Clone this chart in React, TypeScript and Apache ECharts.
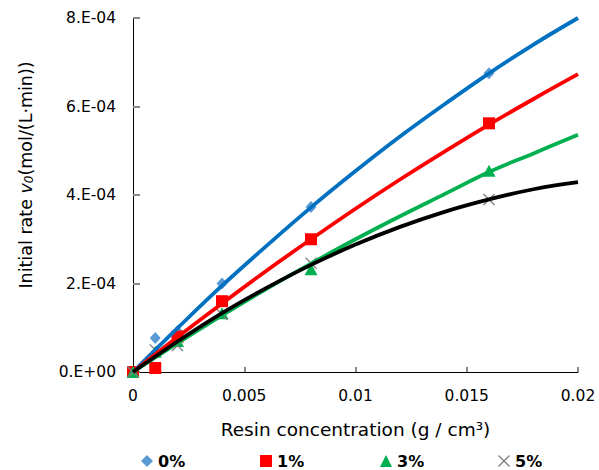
import React, { useEffect, useRef } from "react";
import * as echarts from "echarts";

// ---- data ----
const legendNames = ["0%", "1%", "3%", "5%"];
const concentration = [0, 0.001, 0.002, 0.004, 0.008, 0.016];
const rate0 = [0, 7.7e-5, 9.2e-5, 2.0e-4, 3.73e-4, 6.75e-4];
const rate1 = [0, 9e-6, 8.0e-5, 1.6e-4, 3.0e-4, 5.62e-4];
const rate3 = [0, 4.6e-5, 7.0e-5, 1.33e-4, 2.32e-4, 4.55e-4];
const rate5 = [0, 5.0e-5, 6.0e-5, 1.3e-4, 2.46e-4, 3.9e-4];

const curveX = [0, 0.002, 0.004, 0.006, 0.008, 0.01, 0.012, 0.014, 0.016, 0.018, 0.02];
const fit0 = [0, 0.99e-4, 1.95e-4, 2.85e-4, 3.72e-4, 4.54e-4, 5.32e-4, 6.05e-4, 6.75e-4, 7.4e-4, 8.0e-4];
const fit1 = [0, 0.79e-4, 1.55e-4, 2.29e-4, 3.0e-4, 3.69e-4, 4.35e-4, 4.98e-4, 5.59e-4, 6.17e-4, 6.73e-4];
const fit3 = [0, 0.65e-4, 1.28e-4, 1.88e-4, 2.45e-4, 3.0e-4, 3.52e-4, 4.02e-4, 4.52e-4, 4.94e-4, 5.36e-4];
const fit5 = [0, 0.69e-4, 1.33e-4, 1.9e-4, 2.42e-4, 2.88e-4, 3.28e-4, 3.62e-4, 3.9e-4, 4.13e-4, 4.29e-4];

const xTickLabels = ["0", "0.005", "0.01", "0.015", "0.02"];
const yTickLabels = ["0.E+00", "2.E-04", "4.E-04", "6.E-04", "8.E-04"];

const FONT = "DejaVu Sans";
const X_SYMBOL =
  "path://M0,0.8L0.8,0L5,4.2L9.2,0L10,0.8L5.8,5L10,9.2L9.2,10L5,5.8L0.8,10L0,9.2L4.2,5Z";

const pairs = (xs: number[], ys: number[]) => xs.map((x, i) => [x, ys[i]]);

export default function App() {
  const ref = useRef<HTMLDivElement>(null);
  useEffect(() => {
    if (!ref.current) return;
    const chart = echarts.init(ref.current, null, { renderer: "svg" });
    const lineColors = ["#0070C0", "#FF0000", "#00B050", "#000000"];
    const fits = [fit0, fit1, fit3, fit5];
    const rates = [rate0, rate1, rate3, rate5];
    const symbols = ["diamond", "rect", "triangle", X_SYMBOL];
    const markColors = ["#5B9BD5", "#FF0000", "#00B050", "#7F7F7F"];
    const sizes = [[11, 12], 12, [13, 12], 12];
    const legendLefts = [141, 260, 380, 498];

    const scatterSeries = legendNames.map((name, i) => ({
      name,
      type: "scatter",
      data: pairs(concentration, rates[i]),
      symbol: symbols[i],
      symbolSize: sizes[i],
      itemStyle: { color: markColors[i], opacity: 1 },
      z: 2,
    }));
    const lineSeries = legendNames.map((name, i) => ({
      name: "fit " + name,
      type: "line",
      data: pairs(curveX, fits[i]),
      smooth: 0.4,
      showSymbol: false,
      symbol: "none",
      lineStyle: { color: lineColors[i], width: 3.8 },
      itemStyle: { color: lineColors[i] },
      z: 3,
    }));

    chart.setOption({
      animation: false,
      textStyle: { fontFamily: FONT, color: "#000" },
      grid: { left: 133, right: 21, top: 18, bottom: 98, containLabel: false },
      xAxis: {
        type: "value",
        min: 0,
        max: 0.02,
        interval: 0.005,
        name: "Resin concentration (g / cm³)",
        nameLocation: "middle",
        nameGap: 48,
        nameTextStyle: { fontFamily: FONT, fontSize: 18.5, color: "#000" },
        axisLine: { lineStyle: { color: "#000", width: 1 } },
        axisTick: { inside: true, length: 5, lineStyle: { color: "#888", width: 2 } },
        splitLine: { show: false },
        axisLabel: {
          margin: 16,
          fontFamily: FONT,
          fontSize: 15.5,
          color: "#000",
          formatter: (v: number) => xTickLabels[Math.round(v / 0.005)] ?? "",
        },
      },
      yAxis: {
        type: "value",
        min: 0,
        max: 8e-4,
        interval: 2e-4,
        axisLine: { show: true, lineStyle: { color: "#000", width: 1 } },
        axisTick: { show: true, inside: true, length: 7, lineStyle: { color: "#888", width: 2 } },
        splitLine: { show: false },
        axisLabel: {
          margin: 17,
          fontFamily: FONT,
          fontSize: 15.5,
          color: "#000",
          formatter: (v: number) => yTickLabels[Math.round(v / 2e-4)] ?? "",
        },
      },
      legend: legendNames.map((n, i) => ({
        data: [n],
        left: legendLefts[i],
        top: 453,
        padding: 0,
        itemWidth: 12,
        itemHeight: 12,
        itemGap: 5,
        textStyle: { fontFamily: FONT, fontSize: 16, fontWeight: "bold", color: "#000" },
      })),
      graphic: [
        {
          type: "text",
          x: 26,
          y: 175,
          rotation: Math.PI / 2,
          style: {
            text: "Initial rate {i|v}{s|0}(mol/(L·min))",
            fontFamily: FONT,
            fontSize: 17.5,
            fill: "#000",
            align: "center",
            verticalAlign: "middle",
            rich: {
              i: { fontFamily: FONT, fontSize: 17.5, fontStyle: "italic", fill: "#000" },
              s: { fontFamily: FONT, fontSize: 12, fontStyle: "italic", fill: "#000", verticalAlign: "bottom" },
            },
          },
        },
      ],
      series: [...scatterSeries, ...lineSeries],
    });
    return () => chart.dispose();
  }, []);
  return (
    <div
      ref={ref}
      style={{ position: "fixed", left: 0, top: 0, width: 599, height: 470, background: "#fff" }}
    />
  );
}
